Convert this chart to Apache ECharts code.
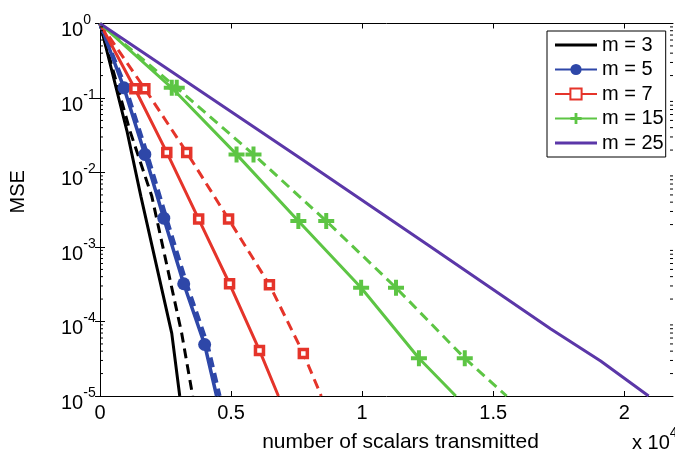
<!DOCTYPE html>
<html>
<head>
<meta charset="utf-8">
<script src="https://cdn.jsdelivr.net/npm/echarts@6/dist/echarts.min.js"></script>
<style>
html,body{margin:0;padding:0;background:#fff;}
#chart{width:675px;height:458px;}
</style>
</head>
<body>
<div id="chart"></div>
<script>
// ---- data (x: number of scalars transmitted, y: MSE) ----
const legendNames = ['m = 3', 'm = 5', 'm = 7', 'm = 15', 'm = 25'];
const xTicks = [0, 5000, 10000, 15000, 20000];
const yTicks = [1e-5, 1e-4, 1e-3, 1e-2, 1e-1, 1];

const m3SolidX = [0, 1027, 1560, 2738, 3042];
const m3SolidY = [1, 0.0363, 0.00479, 6.92e-5, 1e-5];
const m3DashX  = [0, 1141, 1977, 3118, 3536];
const m3DashY  = [1, 0.0363, 0.00479, 6.92e-5, 1e-5];

const m5SolidX = [0, 913, 1711, 2433, 3194, 3992, 4449];
const m5SolidY = [1, 0.137, 0.0175, 0.00244, 0.000321, 4.91e-5, 1e-5];
const m5DashX  = [0, 980, 1800, 2530, 3300, 4100, 4563];
const m5DashY  = [1, 0.137, 0.0175, 0.00244, 0.000321, 4.91e-5, 1e-5];

const m7SolidX = [0, 1331, 2548, 3764, 4943, 6084, 6806];
const m7SolidY = [1, 0.133, 0.0186, 0.00237, 0.000321, 4.09e-5, 1e-5];
const m7DashX  = [0, 1711, 3308, 4905, 6464, 7757, 8441];
const m7DashY  = [1, 0.133, 0.0186, 0.00237, 0.000311, 3.73e-5, 1e-5];

const m15SolidX = [0, 2738, 5209, 7567, 9962, 12167, 13574];
const m15SolidY = [1, 0.137, 0.0175, 0.00223, 0.000284, 3.21e-5, 1e-5];
const m15DashX  = [0, 2928, 5856, 8631, 11293, 13916, 15513];
const m15DashY  = [1, 0.137, 0.0175, 0.00223, 0.000284, 3.21e-5, 1e-5];

const m25X = [0, 7700, 12500, 17200, 19100, 20930];
const m25Y = [1, 0.0151, 0.00107, 7.94e-5, 2.95e-5, 1e-5];

// ---- chart ----
const X_MIN = 0, X_MAX = 21860, Y_MIN = 1e-5, Y_MAX = 1;
const FONT = '"Liberation Sans", Arial, Helvetica, sans-serif';
const plusPath = 'path://M3.75,0H6.25V3.75H10V6.25H6.25V10H3.75V6.25H0V3.75H3.75Z';
const lineIcon = 'path://M0,0L0.01,0L0,0.01Z M0,5.5H42V8.5H0Z M42,14L41.99,14L42,13.99Z';

function pts(xs, ys, markers) {
  return xs.map((x, i) => {
    const item = { value: [x, ys[i]] };
    if (!markers || i === 0 || i === xs.length - 1) item.symbol = 'none';
    return item;
  });
}

const minorVals = [];
for (let k = -5; k < 0; k++) for (let j = 2; j <= 9; j++) minorVals.push([X_MIN, j * Math.pow(10, k)]);

function lineSeries(name, xs, ys, color, width, dashed, symbol, size, itemStyle, markers) {
  return {
    name: name, type: 'line', data: pts(xs, ys, markers),
    xAxisIndex: 0, yAxisIndex: 0,
    showSymbol: !!symbol, symbol: symbol || 'none', symbolSize: size || 0,
    itemStyle: itemStyle || { color: color },
    lineStyle: { color: color, width: width, type: dashed ? [10, 6] : 'solid' },
    animation: false, silent: true, z: 3
  };
}

const BLACK = '#000000', BLUE = '#2e47a8', RED = '#e5342a', GREEN = '#5dc544', PURPLE = '#5b37a8';
const redSq = { color: '#ffffff', borderColor: RED, borderWidth: 3.5 };

const supRich = {
  b: { fontSize: 20, color: '#000', fontFamily: FONT },
  s: { fontSize: 14, padding: [0, 0, 20, 0], color: '#000', fontFamily: FONT }
};

const option = {
  backgroundColor: '#ffffff',
  animation: false,
  textStyle: { fontFamily: FONT },
  grid: { left: 98, right: 2, top: 23.5, bottom: 55, containLabel: false },
  legend: {
    data: [
      { name: 'm = 3', icon: lineIcon },
      { name: 'm = 5' },
      { name: 'm = 7' },
      { name: 'm = 15' },
      { name: 'm = 25', icon: lineIcon }
    ],
    orient: 'vertical', left: 547, top: 31,
    backgroundColor: '#fff', borderColor: '#000', borderWidth: 1,
    padding: [4, 2, 4, 7], itemGap: 4.5, itemWidth: 42, itemHeight: 14,
    textStyle: { fontSize: 20, color: '#000', fontFamily: FONT },
    selectedMode: false
  },
  xAxis: [{
    type: 'value', min: X_MIN, max: X_MAX, position: 'bottom',
    name: 'number of scalars transmitted', nameLocation: 'middle', nameGap: 36,
    nameTextStyle: { fontSize: 21, color: '#000', fontFamily: FONT, padding: [0, 0, 0, 28] },
    axisLine: { show: true, lineStyle: { color: '#000', width: 1 } },
    axisTick: { show: true, inside: true, length: 5, customValues: xTicks, lineStyle: { color: '#000' } },
    axisLabel: { show: true, customValues: xTicks, margin: 7, fontSize: 20, color: '#000', fontFamily: FONT,
      formatter: v => String(v / 10000) },
    splitLine: { show: false }
  }, {
    type: 'value', min: X_MIN, max: X_MAX, position: 'top',
    axisLine: { show: true, lineStyle: { color: '#000', width: 1 } },
    axisTick: { show: true, inside: true, length: 5, customValues: xTicks, lineStyle: { color: '#000' } },
    axisLabel: { show: false }, splitLine: { show: false }
  }],
  yAxis: [{
    type: 'log', logBase: 10, min: Y_MIN, max: Y_MAX, position: 'left',
    name: 'MSE', nameLocation: 'middle', nameGap: 72, nameRotate: 90,
    nameTextStyle: { fontSize: 20, color: '#000', fontFamily: FONT, padding: [0, 0, 0, 36] },
    axisLine: { show: true, lineStyle: { color: '#000', width: 1 } },
    axisTick: { show: true, inside: true, length: 5, customValues: yTicks, lineStyle: { color: '#000' } },
    axisLabel: {
      show: true, customValues: yTicks, margin: 39, align: 'left', padding: [14, 0, 0, 0],
      formatter: v => '{b|10}{s|' + Math.round(Math.log10(v)) + '}',
      rich: supRich
    },
    splitLine: { show: false }
  }, {
    type: 'log', logBase: 10, min: Y_MIN, max: Y_MAX, position: 'right',
    axisLine: { show: true, lineStyle: { color: '#000', width: 1 } },
    axisTick: { show: true, inside: true, length: 5, customValues: yTicks, lineStyle: { color: '#000' } },
    axisLabel: { show: false }, splitLine: { show: false }
  }],
  graphic: [{
    type: 'text', left: 632, top: 426, silent: true,
    style: {
      rich: {
        b: { fontSize: 20, fill: '#000', fontFamily: FONT },
        s: { fontSize: 14, padding: [0, 0, 20, 0], fill: '#000', fontFamily: FONT }
      },
      text: '{b|x 10}{s|4}'
    }
  }],
  series: [
    lineSeries('m = 3', m3SolidX, m3SolidY, BLACK, 3, false),
    lineSeries('m3 dashed', m3DashX, m3DashY, BLACK, 3, true),
    lineSeries('m5 dashed', m5DashX, m5DashY, BLUE, 4, true),
    lineSeries('m = 5', m5SolidX, m5SolidY, BLUE, 3.5, false, 'circle', 13, { color: BLUE }, true),
    lineSeries('m = 7', m7SolidX, m7SolidY, RED, 3, false, 'rect', 8, redSq, true),
    lineSeries('m7 dashed', m7DashX, m7DashY, RED, 3, true, 'rect', 8, redSq, true),
    lineSeries('m = 15', m15SolidX, m15SolidY, GREEN, 3, false, plusPath, 16, { color: GREEN }, true),
    lineSeries('m15 dashed', m15DashX, m15DashY, GREEN, 3, true, plusPath, 16, { color: GREEN }, true),
    lineSeries('m = 25', m25X, m25Y, PURPLE, 3, false),
    {
      name: 'minor ticks', type: 'custom', data: minorVals, encode: { x: 0, y: 1 },
      xAxisIndex: 0, yAxisIndex: 0, silent: true, z: 5, clip: false,
      renderItem: function (params, api) {
        const v = api.value(1);
        const pl = api.coord([X_MIN, v]);
        const pr = api.coord([X_MAX, v]);
        return {
          type: 'group', children: [
            { type: 'line', shape: { x1: pl[0], y1: pl[1], x2: pl[0] + 3, y2: pl[1] }, style: { stroke: '#000', lineWidth: 1 } },
            { type: 'line', shape: { x1: pr[0] - 3, y1: pr[1], x2: pr[0], y2: pr[1] }, style: { stroke: '#000', lineWidth: 1 } }
          ]
        };
      }
    }
  ]
};

const chart = echarts.init(document.getElementById('chart'), null, { renderer: 'canvas' });
chart.setOption(option);
</script>
</body>
</html>
